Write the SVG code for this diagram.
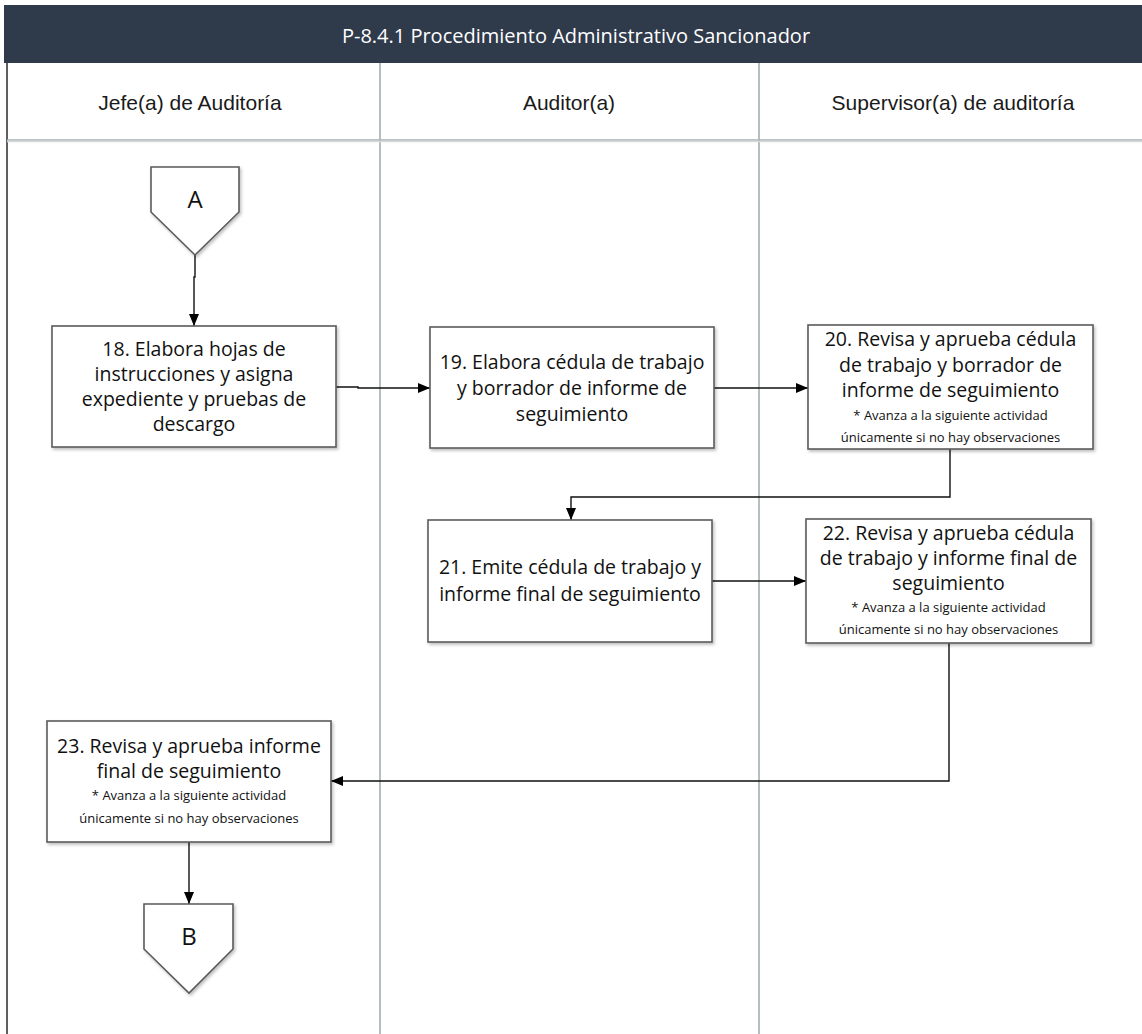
<svg xmlns="http://www.w3.org/2000/svg" width="1142" height="1034" viewBox="0 0 1142 1034">
<defs>
<style>
.lane{stroke:#9ea9ad;stroke-width:1.5;fill:none}
.box{fill:#ffffff;stroke:#5a5a5a;stroke-width:1.6;filter:url(#sh)}
.t{font-family:"Open Sans","Noto Sans",sans-serif;font-size:19.5px;fill:#111;text-anchor:middle}
.s{font-family:"Open Sans","Noto Sans",sans-serif;font-size:13px;fill:#111;text-anchor:middle}
.h{font-family:"Liberation Sans",Arial,sans-serif;font-size:21px;fill:#1a1a1a;text-anchor:middle}
.c{stroke:#111;stroke-width:1.4;fill:none;marker-end:url(#ah)}
</style>
<marker id="ah" markerWidth="12" markerHeight="10" refX="12" refY="5" orient="auto" markerUnits="userSpaceOnUse">
<path d="M0,0 L12,5 L0,10 Z" fill="#000"/>
</marker>
<filter id="sh" x="-10%" y="-10%" width="125%" height="125%">
<feDropShadow dx="1.5" dy="2" stdDeviation="1.5" flood-color="#000" flood-opacity="0.25"/>
</filter>
</defs>
<rect width="1142" height="1034" fill="#ffffff"/>
<g id="header">
<rect x="4" y="5" width="1138" height="58" fill="#2f3a4b"/>
<text x="576" y="43" font-family="'Open Sans','Noto Sans',sans-serif" font-size="20" fill="#ffffff" text-anchor="middle">P-8.4.1 Procedimiento Administrativo Sancionador</text>
</g>
<g id="lanes">
<line x1="7" y1="63" x2="7" y2="1034" stroke="#5f5f5f" stroke-width="2"/>
<line class="lane" x1="380" y1="63" x2="380" y2="1034"/>
<line class="lane" x1="759" y1="63" x2="759" y2="1034"/>
<line x1="7" y1="140" x2="1142" y2="140" stroke="#a8b0b3" stroke-width="1.5"/>
<line x1="7" y1="141.5" x2="1142" y2="141.5" stroke="#d6dadc" stroke-width="1.5"/>
<text class="h" x="190" y="110">Jefe(a) de Auditoría</text>
<text class="h" x="569" y="110">Auditor(a)</text>
<text class="h" x="953" y="110">Supervisor(a) de auditoría</text>
</g>
<g id="connectors">
<path class="c" d="M195,255 V277 H194 V326"/>
<path class="c" d="M336,387 H358 V388 H430"/>
<path class="c" d="M714,388 H808"/>
<path class="c" d="M950,449 V497 H571 V520"/>
<path class="c" d="M712,581 H806"/>
<path class="c" d="M949,643 V781 H331"/>
<path class="c" d="M189,842 V904"/>
</g>
<g id="nodeA">
<path class="box" d="M151,167 H239 V212 L195,255 L151,212 Z"/>
<text x="195" y="208" font-family="'Open Sans','Noto Sans',sans-serif" font-size="24" fill="#111" text-anchor="middle">A</text>
</g>
<g id="node18">
<rect class="box" x="52" y="326" width="284" height="121"/>
<text class="t" x="194" y="356">18. Elabora hojas de</text>
<text class="t" x="194" y="381">instrucciones y asigna</text>
<text class="t" x="194" y="406">expediente y pruebas de</text>
<text class="t" x="194" y="431">descargo</text>
</g>
<g id="node19">
<rect class="box" x="430" y="327" width="284" height="121"/>
<text class="t" x="572" y="369">19. Elabora cédula de trabajo</text>
<text class="t" x="572" y="395">y borrador de informe de</text>
<text class="t" x="572" y="421">seguimiento</text>
</g>
<g id="node20">
<rect class="box" x="808" y="325" width="285" height="124"/>
<text class="t" x="950.5" y="346">20. Revisa y aprueba cédula</text>
<text class="t" x="950.5" y="372">de trabajo y borrador de</text>
<text class="t" x="950.5" y="397">informe de seguimiento</text>
<text class="s" x="950.5" y="420">* Avanza a la siguiente actividad</text>
<text class="s" x="950.5" y="442">únicamente si no hay observaciones</text>
</g>
<g id="node21">
<rect class="box" x="428" y="520" width="284" height="122"/>
<text class="t" x="570" y="574">21. Emite cédula de trabajo y</text>
<text class="t" x="570" y="601">informe final de seguimiento</text>
</g>
<g id="node22">
<rect class="box" x="806" y="519" width="285" height="124"/>
<text class="t" x="948.5" y="540">22. Revisa y aprueba cédula</text>
<text class="t" x="948.5" y="565">de trabajo y informe final de</text>
<text class="t" x="948.5" y="590">seguimiento</text>
<text class="s" x="948.5" y="612">* Avanza a la siguiente actividad</text>
<text class="s" x="948.5" y="634">únicamente si no hay observaciones</text>
</g>
<g id="node23">
<rect class="box" x="47" y="721" width="284" height="121"/>
<text class="t" x="189" y="753">23. Revisa y aprueba informe</text>
<text class="t" x="189" y="778">final de seguimiento</text>
<text class="s" x="189" y="800">* Avanza a la siguiente actividad</text>
<text class="s" x="189" y="823">únicamente si no hay observaciones</text>
</g>
<g id="nodeB">
<path class="box" d="M144,904 H233 V949 L189,993 L144,949 Z"/>
<text x="189" y="945" font-family="'Open Sans','Noto Sans',sans-serif" font-size="24" fill="#111" text-anchor="middle">B</text>
</g>
</svg>
